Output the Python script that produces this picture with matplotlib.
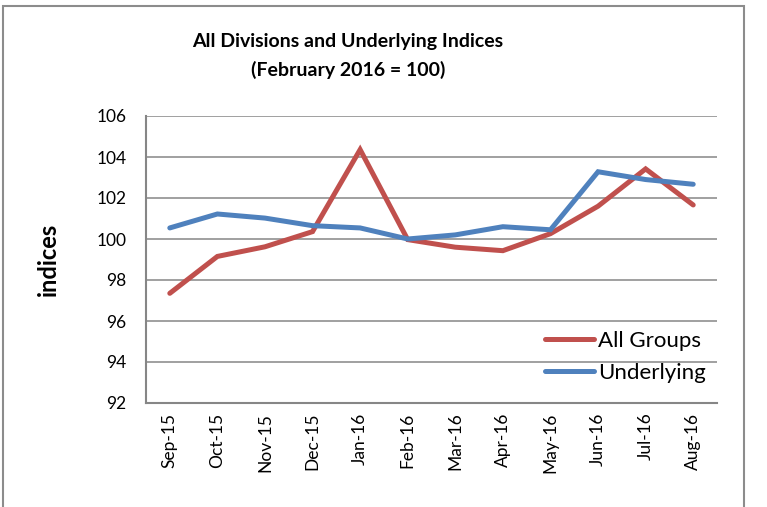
import matplotlib
matplotlib.use('Agg')
import matplotlib.pyplot as plt
from matplotlib.patches import Rectangle

plt.rcParams['font.family'] = ['Lato', 'DejaVu Sans']

months = ['Sep-15', 'Oct-15', 'Nov-15', 'Dec-15', 'Jan-16', 'Feb-16',
          'Mar-16', 'Apr-16', 'May-16', 'Jun-16', 'Jul-16', 'Aug-16']
all_groups = [97.35, 99.15, 99.62, 100.36, 104.36, 99.97,
              99.6, 99.43, 100.26, 101.6, 103.42, 101.66]
underlying = [100.54, 101.22, 101.02, 100.65, 100.54, 100.0,
              100.2, 100.6, 100.45, 103.28, 102.9, 102.67]
yticks = [92, 94, 96, 98, 100, 102, 104, 106]

W, H = 767, 507
fig = plt.figure(figsize=(W / 100, H / 100), dpi=100)

# outer chart frame
fig.patches.append(Rectangle((3 / W, -0.05), 741 / W, (H - 6) / H + 0.05,
                             transform=fig.transFigure, fill=False,
                             edgecolor='#8c8c8c', lw=1.5))

ax = fig.add_axes([146 / W, (H - 403) / H, 571 / W, 287 / H])
x = range(len(months))
ax.plot(x, all_groups, color='#C0504D', lw=3.6, label='All Groups',
        solid_capstyle='round', solid_joinstyle='miter')
ax.plot(x, underlying, color='#4F81BD', lw=3.6, label='Underlying',
        solid_capstyle='round', solid_joinstyle='miter')

ax.set_xlim(-0.5, len(months) - 0.5)
ax.set_ylim(92, 106)
ax.set_yticks(yticks)
ax.set_xticks(list(x))
ax.set_xticklabels(months, rotation=90)
ax.tick_params(length=0, labelsize=12.5, pad=7)
ax.tick_params(axis='y', pad=14)
ax.grid(axis='y', color='#868686', lw=1.1)
ax.set_axisbelow(True)
for s in ['top', 'right']:
    ax.spines[s].set_visible(False)
for s in ['left', 'bottom']:
    ax.spines[s].set_color('#868686')
    ax.spines[s].set_linewidth(1.5)

ax.set_ylabel('indices', fontsize=17, fontweight='bold', labelpad=26)

fig.text(348 / W, 1 - 42 / H, 'All Divisions and Underlying Indices',
         ha='center', va='center', fontsize=14, fontweight='bold')
fig.text(348 / W, 1 - 70 / H, '(February 2016 = 100)',
         ha='center', va='center', fontsize=14, fontweight='bold')

leg = ax.legend(loc='center left', bbox_to_anchor=(534 / W, 1 - 357 / H),
                bbox_transform=fig.transFigure, frameon=False, fontsize=16,
                handlelength=2.2, handletextpad=0.2, labelspacing=0.55,
                borderpad=0)

fig.savefig('out.png', dpi=100)
